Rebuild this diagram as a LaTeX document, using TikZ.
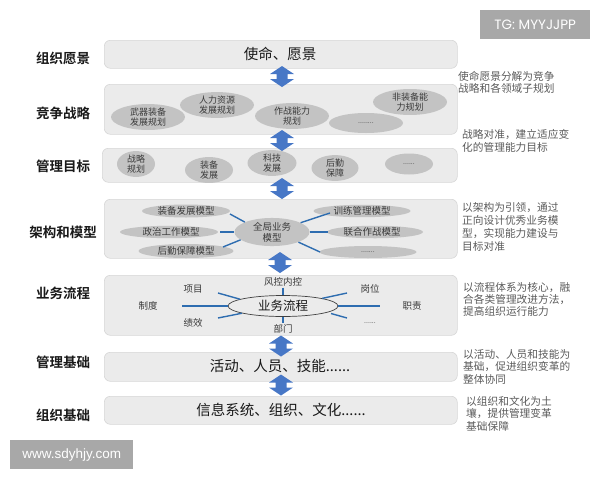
\documentclass[tikz,border=0pt]{standalone}
\usepackage{fontspec}
\setmainfont{Noto Sans CJK SC}[BoldFont={Noto Sans CJK SC Bold}]
\newfontfamily\latinfont{Liberation Sans}
\newfontfamily\tgfont{Poppins}
\usetikzlibrary{shapes.geometric}
\definecolor{bandfill}{HTML}{EBEBEB}
\definecolor{bandline}{HTML}{D6D6D6}
\definecolor{ellfill}{HTML}{C3C3C3}
\definecolor{elltext}{HTML}{3A3A3A}
\definecolor{notetext}{HTML}{5A5A5A}
\definecolor{connblue}{HTML}{2E6DB0}
\definecolor{arrowblue}{HTML}{4777C6}
\definecolor{wmgray}{HTML}{A8A8A8}
\begin{document}
\begin{tikzpicture}[x=1pt,y=-1pt,
  band/.style={draw=bandline, fill=bandfill, rounded corners=6pt, line width=0.6pt, anchor=north west, inner sep=0pt},
  ell/.style={ellipse, fill=ellfill, inner sep=0pt, text=elltext, align=center},
  etxt/.style={font=\fontsize{9}{10}\selectfont},
  mtxt/.style={font=\fontsize{9.5}{11}\selectfont},
  lbl/.style={font=\fontsize{13.5}{15}\selectfont\bfseries, text=black!90},
  bigtxt/.style={font=\fontsize{14.5}{16}\selectfont, text=black!90},
  note/.style={anchor=north west, align=left, text=notetext, inner sep=0pt, font=\fontsize{10.7}{12.5}\selectfont},
  plbl/.style={font=\fontsize{9.5}{11}\selectfont, text=elltext},
  conn/.style={draw=connblue, line width=1.4pt},
  dblarrow/.pic={\fill[arrowblue] (0,-10.5) -- (12,-2.5) -- (5.5,-2.5) -- (5.5,2.5) -- (12,2.5) -- (0,10.5) -- (-12,2.5) -- (-5.5,2.5) -- (-5.5,-2.5) -- (-12,-2.5) -- cycle;},
  wm/.style={fill=wmgray, text=white, inner sep=0pt, anchor=north west}
]
\useasboundingbox (0,0) rectangle (600,480);

% watermarks
\node[wm, minimum width=110pt, minimum height=29pt] (tg) at (480,10) {\tgfont\fontsize{13.5}{15}\selectfont TG: MYYJJPP};
\node[wm, minimum width=123pt, minimum height=29pt] (www) at (10,440) {\latinfont\fontsize{13.5}{15}\selectfont www.sdyhjy.com};

% bands
\node[band, minimum width=353pt, minimum height=28pt] (b1) at (104,40) {};
\node[band, minimum width=353pt, minimum height=50pt] (b2) at (104,84) {};
\node[band, minimum width=355pt, minimum height=34pt] (b3) at (102,148) {};
\node[band, minimum width=353pt, minimum height=59pt] (b4) at (104,199) {};
\node[band, minimum width=353pt, minimum height=60pt] (b5) at (104,275) {};
\node[band, minimum width=353pt, minimum height=29pt] (b6) at (104,352) {};
\node[band, minimum width=353pt, minimum height=28pt] (b7) at (104,396) {};

% left labels
\node[lbl] (l1) at (63,58) {组织愿景};
\node[lbl] (l2) at (63,113) {竞争战略};
\node[lbl] (l3) at (63,166) {管理目标};
\node[lbl] (l4) at (63,232) {架构和模型};
\node[lbl] (l5) at (63,293) {业务流程};
\node[lbl] (l6) at (63,362) {管理基础};
\node[lbl] (l7) at (63,415) {组织基础};

% band texts
\node[bigtxt] (t1) at (280,54) {使命、愿景};
\node[bigtxt] (t6) at (280,366) {活动、人员、技能......};
\node[bigtxt] (t7) at (281,410) {信息系统、组织、文化......};

% band 2 ellipses
\node[ell, etxt, minimum width=74pt, minimum height=22pt] (s1) at (148,117) {武器装备\\发展规划};
\node[ell, etxt, minimum width=74pt, minimum height=21pt] (s2) at (217,105) {人力资源\\发展规划};
\node[ell, etxt, minimum width=74pt, minimum height=21pt] (s3) at (292,116) {作战能力\\规划};
\node[ell, etxt, minimum width=74pt, minimum height=20pt] (s4) at (366,123) {\fontsize{7}{8}\selectfont ........};
\node[ell, etxt, minimum width=74pt, minimum height=21pt] (s5) at (410,102) {非装备能\\力规划};

% band 3 ellipses
\node[ell, etxt, minimum width=38pt, minimum height=21pt] (g1) at (136,164) {战略\\规划};
\node[ell, etxt, minimum width=48pt, minimum height=20pt] (g2) at (209,170) {装备\\发展};
\node[ell, etxt, minimum width=49pt, minimum height=23pt] (g3) at (272,163) {科技\\发展};
\node[ell, etxt, minimum width=47pt, minimum height=21pt] (g4) at (335,168) {后勤\\保障};
\node[ell, etxt, minimum width=48pt, minimum height=21pt] (g5) at (409,164) {\fontsize{7}{8}\selectfont ......};

% band 4 ellipses
\node[ell, mtxt, minimum width=88pt, minimum height=13pt] (m1) at (186,211) {装备发展模型};
\node[ell, mtxt, minimum width=98pt, minimum height=12pt] (m2) at (169,232) {\hspace*{4pt}政治工作模型};
\node[ell, mtxt, minimum width=95pt, minimum height=14pt] (m3) at (186,251) {后勤保障模型};
\node[ell, mtxt, minimum width=97pt, minimum height=12pt] (r1) at (362,211) {训练管理模型};
\node[ell, mtxt, minimum width=96pt, minimum height=12pt] (r2) at (375,232) {\hspace*{-6pt}联合作战模型};
\node[ell, mtxt, minimum width=97pt, minimum height=12pt] (r3) at (368,252) {\fontsize{7}{8}\selectfont .......};
\node[ell, mtxt, minimum width=75pt, minimum height=27pt] (gm) at (272,232) {全局业务\\模型};

\coordinate (c1) at (230,214);
\coordinate (c2) at (220,232);
\coordinate (c3) at (223,247);
\coordinate (c4) at (330,213);
\coordinate (c5) at (328,232);
\coordinate (c6) at (320,252);
\draw[conn] (c1) -- (gm.160);
\draw[conn] (c2) -- (gm.west);
\draw[conn] (c3) -- (gm.194);
\draw[conn] (gm.18) -- (c4);
\draw[conn] (gm.east) -- (c5);
\draw[conn] (gm.-21) -- (c6);

% band 5
\node[ellipse, draw=black!75, line width=0.7pt, inner sep=0pt, minimum width=110pt, minimum height=21pt, font=\fontsize{12.5}{14}\selectfont, text=black!90] (proc) at (283,306) {业务流程};
\node[plbl, inner sep=1pt] (fk) at (283,282) {风控内控};
\node[plbl, inner sep=1pt] (bm) at (283,329) {部门};
\node[plbl] (xm) at (193,289) {项目};
\node[plbl] (zd) at (148,306) {制度};
\node[plbl] (jx) at (193,323) {绩效};
\node[plbl] (gw) at (370,289) {岗位};
\node[plbl] (zz) at (412,306) {职责};
\node[plbl] (dd) at (370,323) {\fontsize{7}{8}\selectfont ......};
\coordinate (p1) at (218,293);
\coordinate (p2) at (182,306);
\coordinate (p3) at (218,318);
\coordinate (p4) at (347,293);
\coordinate (p5) at (380,306);
\coordinate (p6) at (347,318);
\coordinate (p7) at (331,313.5);
\draw[conn] (fk.south) -- (proc.north);
\draw[conn] (proc.south) -- (bm.north);
\draw[conn] (p1) -- (proc.171);
\draw[conn] (p2) -- (proc.west);
\draw[conn] (p3) -- (proc.190);
\draw[conn] (proc.11) -- (p4);
\draw[conn] (proc.east) -- (p5);
\draw[conn] (p7) -- (p6);

% arrows
\pic at (282,76.5) {dblarrow};
\pic at (282,140.5) {dblarrow};
\pic at (282,188.5) {dblarrow};
\pic at (280,262.5) {dblarrow};
\pic at (281,346) {dblarrow};
\pic at (281,385) {dblarrow};

% notes
\node[note, font=\fontsize{10.7}{12}\selectfont] (n1) at (458,71) {使命愿景分解为竞争\\战略和各领域子规划};
\node[note, font=\fontsize{10.7}{13}\selectfont] (n2) at (462,129.5) {战略对准，建立适应变\\化的管理能力目标};
\node[note, font=\fontsize{10.7}{13}\selectfont] (n3) at (462,202) {以架构为引领，通过\\正向设计优秀业务模\\型，实现能力建设与\\目标对准};
\node[note, font=\fontsize{10.7}{12}\selectfont] (n4) at (463,282.5) {以流程体系为核心，融\\合各类管理改进方法，\\提高组织运行能力};
\node[note] (n5) at (463,349) {以活动、人员和技能为\\基础，促进组织变革的\\整体协同};
\node[note] (n6) at (466,396) {以组织和文化为土\\壤，提供管理变革\\基础保障};
\end{tikzpicture}
\end{document}
